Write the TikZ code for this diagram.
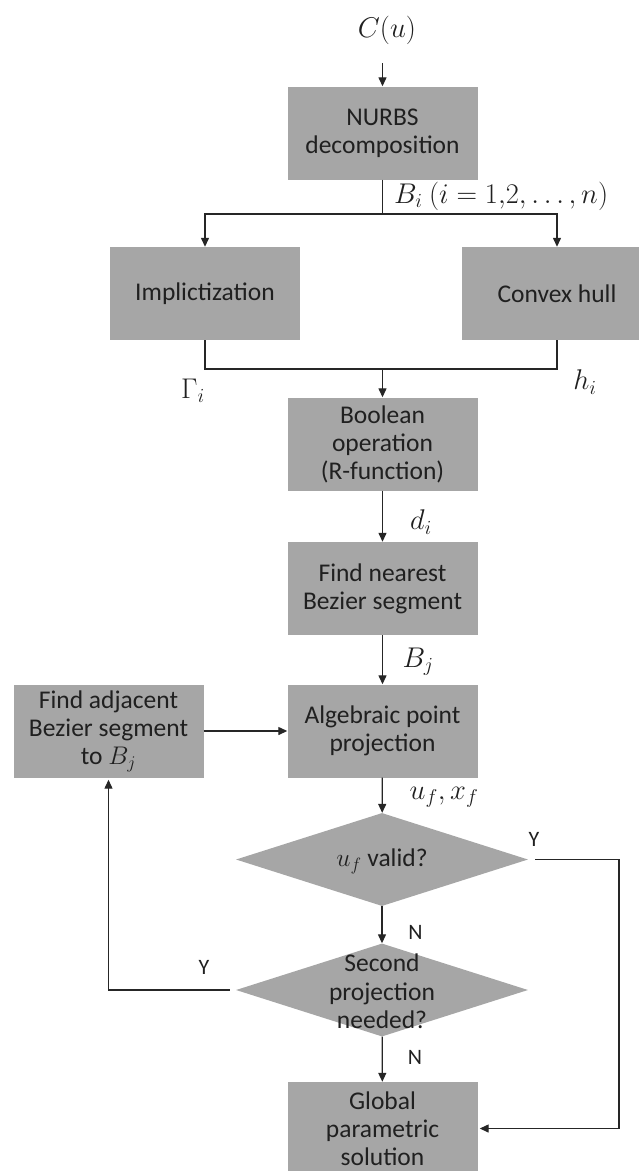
\RequirePackage{fix-cm}
\documentclass[tikz,border=0pt]{standalone}
\usepackage[no-math]{fontspec}
\setmainfont{Carlito}
\usetikzlibrary{arrows.meta,shapes.geometric}
\definecolor{boxgray}{HTML}{A6A6A6}
\definecolor{txt}{HTML}{202020}
\definecolor{ln}{HTML}{262626}
\begin{document}
\begin{tikzpicture}[x=1pt,y=-1pt,
  every node/.style={text=txt},
  proc/.style={rectangle, fill=boxgray, minimum width=190pt, minimum height=93pt, inner sep=0pt, align=center, font=\fontsize{25.5}{28}\selectfont},
  dec/.style={diamond, fill=boxgray, minimum width=292pt, minimum height=93pt, inner sep=0pt},
  dtext/.style={align=center, font=\fontsize{25.5}{28.5}\selectfont, inner sep=0pt},
  mlab/.style={font=\fontsize{28.5}{32}\selectfont, inner sep=0pt},
  yn/.style={font=\fontsize{22}{24}\selectfont, inner sep=0pt},
  conn/.style={draw=ln, line width=1.3pt},
  arr/.style={conn, -{Triangle[length=9pt,width=8pt]}}]
\clip (0,0) rectangle (639,1171);
% nodes
\node[mlab] (cu) at (387,30) {$C(u)$};
\node[proc] (nurbs) at (382.5,133) {NURBS\\decomposition};
\node[mlab, anchor=west] (bi) at (394,196) {$B_i\ (i=1{,}2,\ldots,n)$};
\node[proc] (impl) at (205,293.5) {Implictization};
\node[proc] (convex) at (557,293.5) {Convex hull};
\node[mlab] (gam) at (193,391) {$\Gamma_i$};
\node[mlab] (hi) at (585,382) {$h_i$};
\node[proc] (bool) at (382.5,444) {Boolean\\operation\\(R-function)};
\node[mlab] (di) at (421,522) {$d_i$};
\node[proc] (near) at (382.5,588.5) {Find nearest\\Bezier segment};
\node[mlab] (bj) at (418,662) {$B_j$};
\node[proc] (alg) at (382.5,731) {Algebraic point\\projection};
\node[proc] (adj) at (108.5,731) {Find adjacent\\Bezier segment\\to $B_j$};
\node[mlab] (uf) at (444,797) {$u_f, x_f$};
\node[dec] (d1) at (382,859.5) {};
\node[dtext] (d1t) at (382,861) {$u_f$ valid?};
\node[yn] (y1) at (534,839) {Y};
\node[yn] (n1) at (415.5,932) {N};
\node[dec] (d2) at (382,990) {};
\node[dtext] (d2t) at (382,991.5) {Second\\projection\\needed?};
\node[yn] (y2) at (204,967) {Y};
\node[yn] (n2) at (415,1057) {N};
\node[proc] (glob) at (382.5,1128.5) {Global\\parametric\\solution};
% connectors
\coordinate (cuout) at (382.5,63);
\draw[arr] (cuout) -- (nurbs.north);
\coordinate (split) at (382.5,214);
\draw[conn] (nurbs.south) -- (split);
\draw[arr] (split) -| (impl.north);
\draw[arr] (split) -| (convex.north);
\coordinate (join) at (382.5,369);
\draw[conn] (impl.south) |- (join) -| (convex.south);
\draw[arr] (join) -- (bool.north);
\draw[arr] (bool) -- (near);
\draw[arr] (near) -- (alg);
\draw[arr] (alg) -- (d1);
\draw[arr] (d1) -- (d2);
\draw[arr] (d2) -- (glob);
\draw[arr] (adj) -- (alg);
\coordinate (rc) at (619,859.5);
\draw[arr] ([xshift=7pt]d1.east) -- (rc) |- ([xshift=2pt]glob.east);
\draw[arr] ([xshift=-6pt]d2.west) -| ([yshift=-2pt]adj.south);
\end{tikzpicture}
\end{document}
